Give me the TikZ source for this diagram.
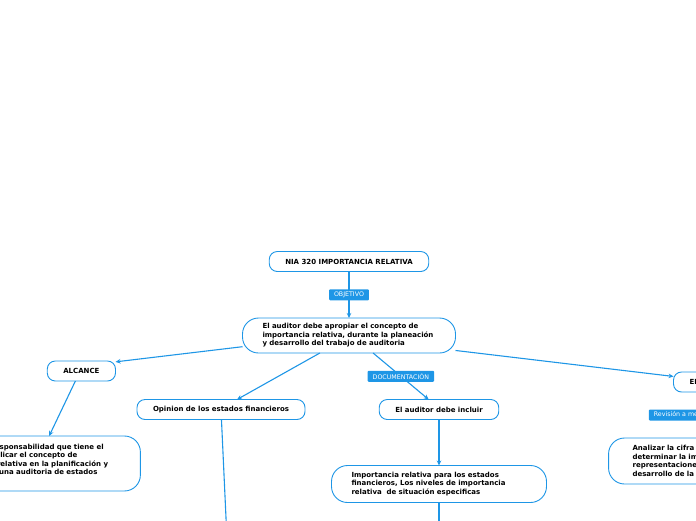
\documentclass[tikz,border=0pt]{standalone}
\usepackage{fontspec}
\setmainfont{DejaVu Sans}
\usetikzlibrary{arrows.meta, positioning}
\definecolor{mapblue}{RGB}{30,150,230}

\begin{document}
\begin{tikzpicture}[
  every node/.style={font=\fontsize{7}{8.5}\selectfont\bfseries, outer sep=0pt},
  topic/.style={rectangle, draw=mapblue, line width=0.9pt, rounded corners=8pt, minimum height=20pt, inner xsep=16pt, fill=white},
  note/.style={rectangle, draw=mapblue, line width=0.9pt, rounded corners=16pt, inner xsep=20pt, inner ysep=4pt, align=left, fill=white},
  tag/.style={rectangle, fill=mapblue, text=white, rounded corners=1pt, minimum height=11pt, inner xsep=5pt, inner ysep=1pt, font=\fontsize{6.3}{7}\selectfont},
  arrow/.style={-{Stealth[length=5pt, width=4.5pt]}, mapblue, line width=1.1pt},
]
  \useasboundingbox (0,0) rectangle (696pt,-520pt);

  \node[topic] (title) at (349pt,-261.5pt) {NIA 320 IMPORTANCIA RELATIVA};
  \node[note, text width=173pt, minimum height=35pt, below=46.5pt of title] (main) {El auditor debe apropiar el concepto de\\importancia relativa, durante la planeación\\y desarrollo del trabajo de auditoria};

  \node[topic, below left=8pt and 127pt of main] (alcance) {ALCANCE};
  \node[note, text width=173pt, minimum height=55pt, below=55pt of alcance, xshift=-47.5pt] (responsabilidad) {Trata de la responsabilidad que tiene el\\auditor de aplicar el concepto de\\importancia relativa en la planificación y\\ejecución de una auditoria de estados\\financieros.};

  \node[topic, below=46.5pt of main, xshift=-128pt] (opinion) {Opinion de los estados financieros};
  \coordinate[below=120pt of opinion, xshift=6pt] (opinionend);

  \node[topic, below=46.5pt of main, xshift=90pt] (incluir) {El auditor debe incluir};
  \node[note, text width=175pt, minimum height=37pt, below=46pt of incluir] (importancia) {Importancia relativa para los estados\\financieros, Los niveles de importancia\\relativa \ de situación especificas};
  \coordinate[below=40pt of importancia] (importanciaend);

  \node[topic, below right=19pt and 218pt of main] (auditor) {EL AUDITOR};
  \node[note, text width=211pt, inner xsep=24pt, minimum height=46pt, below=46pt of auditor, xshift=25pt] (analizar) {Analizar la cifra establecida para\\determinar la importancia relativa en las\\representaciones erróneas durante el\\desarrollo de la auditoria};

  \draw[arrow] (title) -- node[tag] (objetivo) {OBJETIVO} (main);
  \draw[arrow] (main.186) -- (alcance.15);
  \draw[arrow] (alcance.239) -- (responsabilidad.61);
  \draw[arrow] (main.211) -- (opinion.32);
  \draw[arrow] (opinion) -- (opinionend);
  \draw[arrow] (main.-36) -- node[tag] (documentacion) {DOCUMENTACIÓN} (incluir.136);
  \draw[arrow] (incluir) -- (importancia);
  \draw[arrow] (importancia) -- (importanciaend);
  \draw[arrow] (main.-8) -- (auditor.172);
  \draw[arrow] (auditor) -- node[tag] (revision) {Revisión a medida que progresa la auditoría} (analizar);
\end{tikzpicture}
\end{document}
